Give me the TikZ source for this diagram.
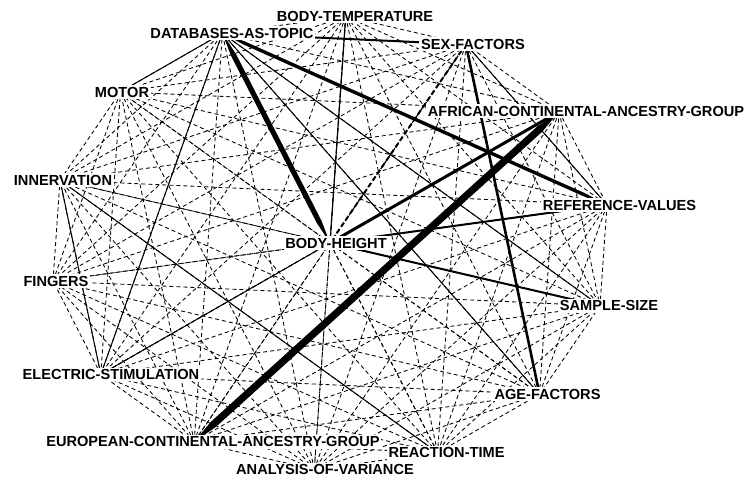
\documentclass[tikz,border=0pt]{standalone}
\usepackage{fontspec}
\setmainfont{Liberation Sans}
\usetikzlibrary{calc}

% tapered heavy tie between two named points: from, to, half width, taper length
\newcommand\spindle[4]{%
  \fill ($(#1)$) -- ($(#1)!#4!(#2)!#3!90:(#2)$) -- ($(#2)!#4!(#1)!#3!-90:(#1)$)
    -- ($(#2)$) -- ($(#2)!#4!(#1)!#3!90:(#1)$) -- ($(#1)!#4!(#2)!#3!-90:(#2)$) -- cycle;}

\tikzset{
  lbl/.style={fill=white, inner sep=1.8pt, text depth=0pt,
    font=\bfseries\fontsize{14.6}{16}\selectfont},
  rel/.style={draw=black, line width=0.85pt, dash pattern=on 4pt off 3pt},
  tie/.style={draw=black, line width=#1},
  boldrel/.style={draw=black, line width=2pt, dash pattern=on 5pt off 3pt},
}

\begin{document}
\begin{tikzpicture}[x=1pt, y=-1pt]
\fill[white] (0,0) rectangle (746,479);
\useasboundingbox (0,0) rectangle (746,479);

% terms on the ring, body height in the middle
\coordinate (BT) at (345.7,16.4);
\coordinate (SF) at (465.9,44.3);
\coordinate (AC) at (559.1,111.6);
\coordinate (RV) at (607.0,204.9);
\coordinate (SS) at (600.0,305.8);
\coordinate (AG) at (539.5,394.2);
\coordinate (RT) at (437.6,452.7);
\coordinate (AV) at (314.3,469.6);
\coordinate (EU) at (194.2,441.7);
\coordinate (ES) at (100.8,374.4);
\coordinate (FI) at (53.0,281.1);
\coordinate (IN) at (60.0,180.2);
\coordinate (MO) at (120.5,91.8);
\coordinate (DB) at (222.4,33.3);
\coordinate (BH) at (330,243);

% every pair of terms, dashed
\foreach \a [count=\i] in {BT,SF,AC,RV,SS,AG,RT,AV,EU,ES,FI,IN,MO,DB,BH} {
  \foreach \b [count=\j] in {BT,SF,AC,RV,SS,AG,RT,AV,EU,ES,FI,IN,MO,DB,BH} {
    \ifnum\j>\i \draw[rel] (\a) -- (\b); \fi
  }
}

% stronger co-occurrences
\spindle{AC}{EU}{3.6pt}{26pt}
\spindle{DB}{BH}{2.6pt}{24pt}
\spindle{DB}{RV}{1.7pt}{24pt}
\draw[tie=3pt] (BH) -- (AC);
\draw[tie=2.6pt] (SF) -- (AG);
\draw[tie=2pt] (BH) -- (RV);
\draw[tie=2pt] (BH) -- (SS);
\draw[tie=2pt] (DB) -- (SF);
\draw[boldrel] (SF) -- (BH);
\draw[tie=1.2pt] (BT) -- (BH);
\foreach \a/\b in {DB/MO, DB/ES, DB/SS, DB/AG, IN/ES, IN/RT, ES/BH, SF/RV}
  \draw[tie=1pt] (\a) -- (\b);

% labels
\node[lbl] (tBT) at (355,16.4) {BODY-TEMPERATURE};
\node[lbl] (tDB) at (232,33.3) {DATABASES-AS-TOPIC};
\node[lbl] (tSF) at (473,44.3) {SEX-FACTORS};
\node[lbl] (tMO) at (122,92) {MOTOR};
\node[lbl] (tAC) at (586,111) {AFRICAN-CONTINENTAL-ANCESTRY-GROUP};
\node[lbl] (tIN) at (63,180.2) {INNERVATION};
\node[lbl] (tRV) at (619.5,204.9) {REFERENCE-VALUES};
\node[lbl] (tBH) at (336,243) {BODY-HEIGHT};
\node[lbl] (tFI) at (56,281) {FINGERS};
\node[lbl] (tSS) at (609,305.8) {SAMPLE-SIZE};
\node[lbl] (tES) at (111,374.4) {ELECTRIC-STIMULATION};
\node[lbl] (tAG) at (547.5,394) {AGE-FACTORS};
\node[lbl] (tEU) at (213,441.7) {EUROPEAN-CONTINENTAL-ANCESTRY-GROUP};
\node[lbl] (tRT) at (446.5,452.7) {REACTION-TIME};
\node[lbl] (tAV) at (325,469.6) {ANALYSIS-OF-VARIANCE};
\end{tikzpicture}
\end{document}
